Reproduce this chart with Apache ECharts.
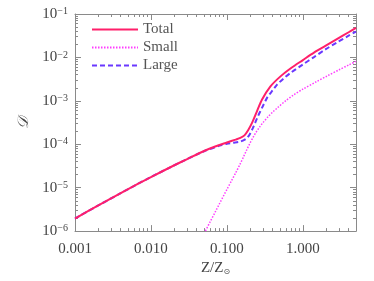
<!DOCTYPE html>
<html><head><meta charset="utf-8">
<script src="https://cdn.jsdelivr.net/npm/echarts@6/dist/echarts.min.js"></script>
<style>html,body{margin:0;padding:0;background:#fff}#c{width:374px;height:281px}</style>
</head><body><div id="c"></div>
<script>
const xTickLabels = ['0.001','0.010','0.100','1.000'];
const yTickExponents = ['−6','−5','−4','−3','−2','−1'];
const seriesNames = ['Total','Small','Large'];
const totalData = [[0.001,1.95e-6],[0.002,3.85e-6],[0.004,7.5e-6],[0.007,1.27e-5],[0.01,1.76e-5],[0.02,3.24e-5],[0.03,4.57e-5],[0.05,7.0e-5],[0.07,8.9e-5],[0.1,1.1e-4],[0.13,1.28e-4],[0.15,1.4e-4],[0.17,1.6e-4],[0.19,2.1e-4],[0.214,3.1e-4],[0.249,5.8e-4],[0.29,1.07e-3],[0.374,2.15e-3],[0.507,3.66e-3],[0.7,5.7e-3],[1.0,8.7e-3],[1.4,0.0129],[2.0,0.0186],[2.8,0.0263],[4.0,0.038],[5.0,0.0479]];
const smallData = [[0.05,8.75e-7],[0.06,1.63e-6],[0.07,2.74e-6],[0.08,4.32e-6],[0.09,6.44e-6],[0.1,9.12e-6],[0.115,1.45e-5],[0.13,2.17e-5],[0.15,3.58e-5],[0.165,5.09e-5],[0.18,7.1e-5],[0.2,1.04e-4],[0.22,1.42e-4],[0.24,1.85e-4],[0.27,2.51e-4],[0.3,3.19e-4],[0.35,4.35e-4],[0.4,5.5e-4],[0.46,6.87e-4],[0.6,1.02e-3],[0.76,1.38e-3],[1.0,1.86e-3],[1.5,2.75e-3],[2.1,3.76e-3],[3.0,5.19e-3],[4.0,6.68e-3],[5.0,8.13e-3]];
const largeData = [[0.001,1.95e-6],[0.002,3.85e-6],[0.004,7.5e-6],[0.007,1.27e-5],[0.01,1.76e-5],[0.02,3.24e-5],[0.03,4.57e-5],[0.05,6.9e-5],[0.08,9.3e-5],[0.1,1.03e-4],[0.12,1.08e-4],[0.15,1.15e-4],[0.18,1.35e-4],[0.2,1.7e-4],[0.225,2.6e-4],[0.25,4.0e-4],[0.275,5.75e-4],[0.3,7.8e-4],[0.337,1.17e-3],[0.4,1.75e-3],[0.457,2.36e-3],[0.55,3.2e-3],[0.684,4.37e-3],[1.0,6.9e-3],[1.4,0.0102],[2.0,0.0155],[2.8,0.0221],[4.0,0.0316],[5.0,0.0394]];

const axisColor = '#8a8a8a';
const textColor = '#444';
const serif = 'Liberation Serif';

function isPow10(v){ const l = Math.log10(v); return Math.abs(l - Math.round(l)) < 1e-6; }
function xAxisDef(pos, showLabel){
  return {
    type:'log', logBase:10, min:0.001, max:5, position:pos, interval:1,
    axisLine:{show:true,lineStyle:{color:axisColor,width:1}},
    axisTick:{show:true,inside:true,length:6,lineStyle:{color:axisColor}},
    minorTick:{show:true,splitNumber:9,length:3,lineStyle:{color:axisColor}},
    splitLine:{show:false}, minorSplitLine:{show:false},
    axisLabel:{show:showLabel,margin:10,color:textColor,fontFamily:serif,fontSize:15,
      formatter:function(v){ if(!isPow10(v)) return ''; const i = Math.round(Math.log10(v))+3; return xTickLabels[i]||''; }},
    name: showLabel ? '{n|Z/Z}{s|⊙}' : '', nameLocation:'middle', nameGap:27,
    nameTextStyle:{rich:{n:{fontFamily:serif,fontSize:15,color:textColor},s:{fontFamily:'DejaVu Sans',fontSize:8,color:textColor,verticalAlign:'bottom',padding:[6,0,0,0]}}}
  };
}
function yAxisDef(pos, showLabel){
  return {
    type:'log', logBase:10, min:1e-6, max:0.1, position:pos, interval:1,
    axisLine:{show:true,lineStyle:{color:axisColor,width:1}},
    axisTick:{show:true,inside:true,length:6,lineStyle:{color:axisColor}},
    minorTick:{show:true,splitNumber:9,length:3,lineStyle:{color:axisColor}},
    splitLine:{show:false}, minorSplitLine:{show:false},
    axisLabel:{show:showLabel,margin:7,color:textColor,fontFamily:serif,
      formatter:function(v){ if(!isPow10(v)) return ''; const i = Math.round(Math.log10(v))+6; return '{b|10}{e|'+yTickExponents[i]+'}'; },
      rich:{b:{fontFamily:serif,fontSize:15,lineHeight:15,color:textColor,verticalAlign:'bottom',padding:[5,0,0,0]},
            e:{fontFamily:serif,fontSize:10,lineHeight:10,color:textColor,verticalAlign:'top'}}},
    name: showLabel ? '𝒟' : '', nameLocation:'middle', nameGap:43, nameRotate:90,
    nameTextStyle:{fontFamily:'DejaVu Serif',fontSize:15,color:textColor,fontStyle:'italic'}
  };
}
const chart = echarts.init(document.getElementById('c'), null, {renderer:'canvas'});
chart.setOption({
  animation:false,
  backgroundColor:'#fff',
  grid:{left:75,right:18,top:14,bottom:49,containLabel:false},
  legend:{left:86,top:17,orient:'vertical',itemWidth:46,itemHeight:14,itemGap:3,
    itemStyle:{opacity:0},
    textStyle:{fontFamily:serif,fontSize:15,color:'#555'},
    data:seriesNames},
  xAxis:[xAxisDef('bottom',true), xAxisDef('top',false)],
  yAxis:[yAxisDef('left',true), yAxisDef('right',false)],
  series:[
    {name:seriesNames[0],type:'line',data:totalData,showSymbol:false,symbol:'none',smooth:0.3,z:3,
      lineStyle:{color:'#ff1f6a',width:2},itemStyle:{color:'#ff1f6a'}},
    {name:seriesNames[1],type:'line',data:smallData,showSymbol:false,symbol:'none',smooth:0.3,z:2,
      lineStyle:{color:'#ff3cff',width:1.5,type:[1.5,1.5]},itemStyle:{color:'#ff3cff'}},
    {name:seriesNames[2],type:'line',data:largeData,showSymbol:false,symbol:'none',smooth:0.3,z:2,
      lineStyle:{color:'#6a38ff',width:2,type:[5,3]},itemStyle:{color:'#6a38ff'}}
  ]
});
</script></body></html>
